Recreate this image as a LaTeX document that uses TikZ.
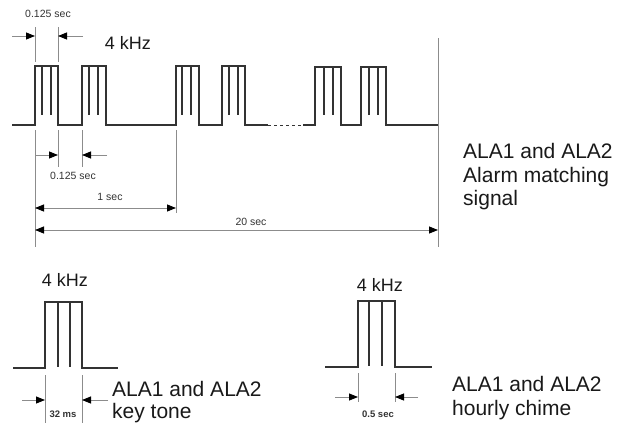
\documentclass[tikz,border=0pt]{standalone}
\usepackage{fontspec}
\setmainfont{Liberation Sans}
\usetikzlibrary{arrows.meta}
\begin{document}
\begin{tikzpicture}[x=1pt,y=-1pt,
  wave/.style={draw=black!80,line width=1.3pt,line join=miter},
  inner/.style={draw=black!80,line width=1.3pt},
  ext/.style={draw=black!45,line width=0.8pt},
  dim/.style={draw=black!45,line width=0.8pt,-{Triangle[length=9pt,width=7pt,black]}},
  dimboth/.style={draw=black!45,line width=0.8pt,{Triangle[length=9pt,width=7pt,black]}-{Triangle[length=9pt,width=7pt,black]}},
  small/.style={font=\fontsize{10.5}{12}\selectfont,text=black!80,inner sep=0pt},
  smallb/.style={font=\fontsize{9.5}{11}\bfseries\selectfont,text=black!80,inner sep=0pt},
  khz/.style={font=\fontsize{18}{20}\selectfont,text=black!90,inner sep=0pt},
  lbl/.style={font=\fontsize{21}{24}\selectfont,text=black!90,inner sep=0pt,anchor=base west}]
\useasboundingbox (0,0) rectangle (629,423);
% ---------- top waveform ----------
\draw[wave] (12,125) -- (35,125) -- (35,66) -- (58,66) -- (58,125) -- (82,125) -- (82,66) -- (106,66) -- (106,125)
  -- (176,125) -- (176,66) -- (199,66) -- (199,125) -- (222,125) -- (222,66) -- (245,66) -- (245,125) -- (268,125);
\draw[wave,line width=1pt,dash pattern=on 3pt off 3pt] (268,125) -- (303,125);
\draw[wave] (303,125) -- (315,125) -- (315,67) -- (341,67) -- (341,125) -- (361,125) -- (361,67) -- (386,67) -- (386,125) -- (438,125);
\foreach \x/\t in {42/66,51/66,89/66,98/66,182/66,191/66,229/66,238/66,324/67,333/67,369/67,378/67}
  \draw[inner] (\x,\t) -- (\x,115);
% extension lines
\draw[ext] (35,27) -- (35,62);
\draw[ext] (58,27) -- (58,62);
\draw[ext] (35,130) -- (35,247);
\draw[ext] (58,130) -- (58,167);
\draw[ext] (82,130) -- (82,167);
\draw[ext] (176,130) -- (176,213);
\draw[ext] (438,38) -- (438,247);
% dimension coordinates
\coordinate (ta1) at (12,36);  \coordinate (ta2) at (35,36);
\coordinate (tb1) at (83,36);  \coordinate (tb2) at (58,36);
\coordinate (la1) at (36,155); \coordinate (la2) at (58,155);
\coordinate (lb1) at (107,155);\coordinate (lb2) at (82,155);
\coordinate (s1a) at (35,208); \coordinate (s1b) at (176,208);
\coordinate (s20a) at (35,230);\coordinate (s20b) at (438,230);
\draw[dim] (ta1) -- (ta2);
\draw[dim] (tb1) -- (tb2);
\draw[dim] (la1) -- (la2);
\draw[dim] (lb1) -- (lb2);
\draw[dimboth] (s1a) -- (s1b);
\draw[dimboth] (s20a) -- (s20b);
\node[small] (t0125) at (48,14) {0.125 sec};
\node[small] (l0125) at (73,176) {0.125 sec};
\node[small] (t1s) at (110,197) {1 sec};
\node[small] (t20s) at (251,222) {20 sec};
\node[khz] (khz1) at (128,43) {4 kHz};
\node[lbl] (r1) at (463,158) {ALA1 and ALA2};
\node[lbl] (r2) at (463,182) {Alarm matching};
\node[lbl] (r3) at (463,205) {signal};
% ---------- bottom left ----------
\draw[wave] (13,368) -- (45,368) -- (45,302) -- (82,302) -- (82,368) -- (118,368);
\draw[inner] (58,302) -- (58,367);
\draw[inner] (70,302) -- (70,367);
\draw[ext] (45,375) -- (45,423);
\draw[ext] (82,375) -- (82,423);
\coordinate (ka1) at (22,400); \coordinate (ka2) at (45,400);
\coordinate (kb1) at (108,400);\coordinate (kb2) at (82,400);
\draw[dim] (ka1) -- (ka2);
\draw[dim] (kb1) -- (kb2);
\node[khz] (khz2) at (65,280) {4 kHz};
\node[smallb] (k32) at (63,414) {32 ms};
\node[lbl] (k1) at (112,396) {ALA1 and ALA2};
\node[lbl] (k2) at (112,418) {key tone};
% ---------- bottom right ----------
\draw[wave] (325,367) -- (358,367) -- (358,301) -- (395,301) -- (395,367) -- (432,367);
\draw[inner] (369,301) -- (369,366);
\draw[inner] (382,301) -- (382,366);
\draw[ext] (358,373) -- (358,402);
\draw[ext] (395,373) -- (395,402);
\coordinate (ha1) at (335,397); \coordinate (ha2) at (358,397);
\coordinate (hb1) at (418,397); \coordinate (hb2) at (395,397);
\draw[dim] (ha1) -- (ha2);
\draw[dim] (hb1) -- (hb2);
\node[khz] (khz3) at (380,285) {4 kHz};
\node[smallb] (h05) at (378,414) {0.5 sec};
\node[lbl] (h1) at (452,391) {ALA1 and ALA2};
\node[lbl] (h2) at (452,415) {hourly chime};
\end{tikzpicture}
\end{document}
